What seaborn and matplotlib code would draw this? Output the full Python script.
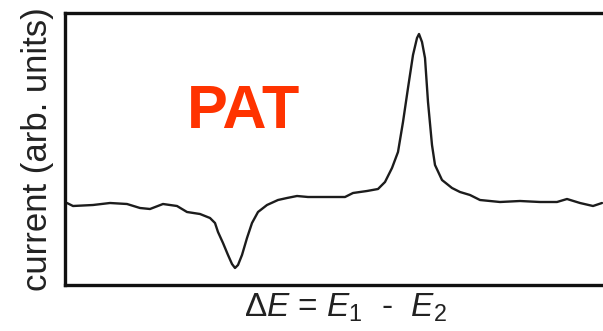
import matplotlib
matplotlib.use("Agg")
import matplotlib.pyplot as plt
import seaborn as sns
import pandas as pd

# Data (arbitrary units)
delta_e = [2, 8, 28, 45, 62, 75, 85, 98, 112, 122,
           135, 145, 150, 153, 158, 163, 167, 170, 173, 177,
           182, 187, 193, 202, 213, 222, 232, 243, 250, 265,
           280, 288, 302, 313, 320, 327, 333, 338, 343, 348,
           352, 354, 357, 360, 363, 367, 370, 377, 387, 395,
           405, 415, 435, 455, 475, 492, 502, 515, 528, 537]
current = [82, 79, 80, 82, 81, 77, 76, 81, 79, 73,
           71, 67, 62, 53, 42, 30, 21, 17, 20, 30,
           47, 62, 73, 80, 85, 87, 89, 88, 88, 88,
           88, 92, 94, 96, 103, 117, 133, 163, 197, 230,
           247, 251, 243, 227, 183, 140, 120, 105, 97, 93,
           90, 85, 83, 84, 83, 83, 86, 82, 79, 82]
label_text = "PAT"
y_label = "current (arb. units)"
x_label = r"$\Delta E$ = $E_1$  -  $E_2$"

df = pd.DataFrame({"dE": delta_e, "I": current})

sns.set_theme(style="white")
plt.rcParams["font.family"] = ["Liberation Sans", "DejaVu Sans"]
plt.rcParams["mathtext.fontset"] = "custom"
plt.rcParams["mathtext.rm"] = "Liberation Sans"
plt.rcParams["mathtext.it"] = "Liberation Sans:italic"

W, H = 603, 331
fig = plt.figure(figsize=(W / 100, H / 100), dpi=100)
fig.patch.set_facecolor("white")
left, right, top, bottom = 65, 625, 13, 285
ax = fig.add_axes([left / W, 1 - bottom / H, (right - left) / W, (bottom - top) / H])

sns.lineplot(data=df, x="dE", y="I", ax=ax, color="#1c1c1c", linewidth=1.7,
             solid_joinstyle="round", solid_capstyle="round")

ax.set_xlim(0, right - left)
ax.set_ylim(0, bottom - top)
ax.set_xticks([])
ax.set_yticks([])
ax.set_xlabel("")
ax.set_ylabel("")
for side in ["left", "top", "bottom"]:
    ax.spines[side].set_visible(True)
    ax.spines[side].set_color("#111111")
    ax.spines[side].set_linewidth(2.4)
ax.spines["right"].set_visible(False)

ax.text((187 - left) / (right - left), 1 - (128 - top) / (bottom - top), label_text,
        transform=ax.transAxes, color="#ff3300", fontsize=44, fontweight="bold",
        ha="left", va="baseline")

fig.text(37.5 / W, 1 - 149 / H, y_label, rotation=90, ha="center", va="center",
         fontsize=25, color="#222222")
fig.text(345 / W, 1 - 317 / H, x_label, ha="center", va="baseline",
         fontsize=24, color="#222222")

fig.savefig("out.png", dpi=100)
